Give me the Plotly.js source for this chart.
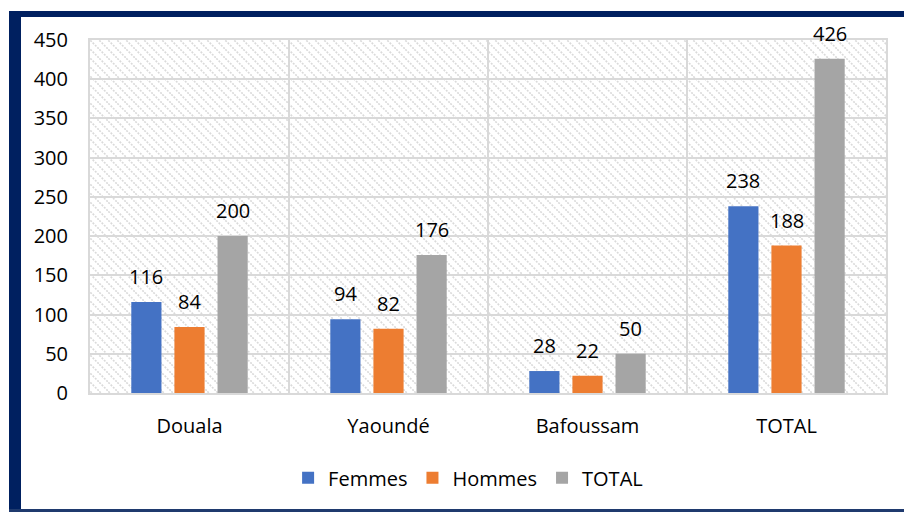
<!DOCTYPE html>
<html>
<head>
<meta charset="utf-8">
<script src="https://cdn.plot.ly/plotly-3.0.1.min.js"></script>
<style>
  html, body { margin: 0; padding: 0; background: #ffffff; }
  #wrap { position: relative; width: 904px; height: 512px; overflow: hidden; }
  #chart { position: absolute; left: 0; top: 0; width: 904px; height: 512px; }
  .frame { position: absolute; background: #002060; pointer-events: none; }
</style>
</head>
<body>
<div id="wrap">
  <div id="chart"></div>
  <div class="frame" style="left:9px; top:11px; width:12px; height:501px;"></div>
  <div class="frame" style="left:9px; top:11px; width:895px; height:6px;"></div>
  <div class="frame" style="left:9px; top:509px; width:895px; height:3px; background:#1f3a6e;"></div>
</div>
<script>
const categories = ["Douala", "Yaoundé", "Bafoussam", "TOTAL"];
const femmes = [116, 94, 28, 238];
const hommes = [84, 82, 22, 188];
const total = [200, 176, 50, 426];
const seriesNames = ["Femmes", "Hommes", "TOTAL"];
const seriesColors = ["#4472C4", "#ED7D31", "#A5A5A5"];
const yTicks = [0, 50, 100, 150, 200, 250, 300, 350, 400, 450];

const FONT = "'Open Sans', sans-serif";
const FS = 20;
const series = [femmes, hommes, total];

const traces = series.map((vals, i) => ({
  type: "bar",
  name: seriesNames[i],
  x: categories,
  y: vals,
  marker: { color: seriesColors[i] },
  hoverinfo: "none"
}));

// data labels above each bar (positioned through the axis scales)
const slotPx = 796 / 4 * 0.65 / 3;
const annotations = [];
series.forEach((vals, i) => {
  vals.forEach((v, j) => {
    annotations.push({
      x: categories[j], y: v, xref: "x", yref: "y",
      text: String(v), showarrow: false,
      xanchor: "center", yanchor: "bottom",
      xshift: (i - 1) * slotPx, yshift: 10,
      font: { family: FONT, size: FS, color: "#000000" }
    });
  });
});

const hatchSvg =
  '<svg xmlns="http://www.w3.org/2000/svg" width="796" height="353">' +
  '<defs><pattern id="p" width="9" height="9" patternUnits="userSpaceOnUse">' +
  '<path d="M-2,-2 L11,11 M-2,7 L2,11 M7,-2 L11,2" stroke="#dadada" stroke-width="1.6" stroke-dasharray="2,1.3"/>' +
  '</pattern></defs>' +
  '<rect width="796" height="353" fill="#ffffff"/>' +
  '<rect width="796" height="353" fill="url(#p)"/></svg>';
const hatchUri = "data:image/svg+xml;base64," + btoa(hatchSvg);

const layout = {
  width: 904,
  height: 512,
  margin: { l: 90, r: 18, t: 40, b: 119 },
  paper_bgcolor: "#ffffff",
  plot_bgcolor: "rgba(0,0,0,0)",
  barmode: "group",
  bargap: 0.35,
  bargroupgap: 0.3,
  font: { family: FONT, size: FS, color: "#000000" },
  showlegend: true,
  legend: {
    orientation: "h",
    x: 0.475, xanchor: "center",
    y: -0.185, yanchor: "top",
    font: { family: FONT, size: FS, color: "#000000" },
    traceorder: "normal"
  },
  annotations: annotations,
  xaxis: {
    type: "category",
    showgrid: false,
    showline: true,
    mirror: true,
    linecolor: "#d9d9d9",
    linewidth: 2,
    ticks: "",
    ticklabelstandoff: 14,
    tickfont: { family: FONT, size: FS, color: "#000000" },
    automargin: false
  },
  yaxis: {
    range: [0, 450],
    tickvals: yTicks,
    ticktext: yTicks.map(String),
    showgrid: true,
    gridcolor: "#d9d9d9",
    gridwidth: 2,
    showline: true,
    mirror: true,
    linecolor: "#d9d9d9",
    linewidth: 2,
    zeroline: false,
    ticks: "",
    ticklabelstandoff: 16,
    tickfont: { family: FONT, size: FS, color: "#000000" },
    automargin: false
  },
  shapes: [1, 2, 3].map(k => ({
    type: "line",
    xref: "x", yref: "paper",
    x0: k - 0.5, x1: k - 0.5, y0: 0, y1: 1,
    line: { color: "#d9d9d9", width: 2 },
    layer: "below"
  })),
  images: [{
    source: hatchUri,
    xref: "paper", yref: "paper",
    x: 0, y: 1, sizex: 1, sizey: 1,
    xanchor: "left", yanchor: "top",
    sizing: "stretch",
    layer: "below"
  }]
};

Plotly.newPlot("chart", traces, layout, { displayModeBar: false, staticPlot: true });
</script>
</body>
</html>
